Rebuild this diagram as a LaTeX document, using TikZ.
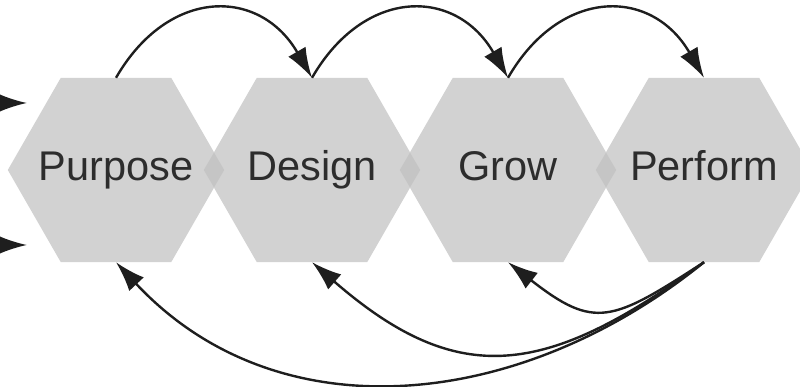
\documentclass[tikz,border=0pt]{standalone}
\usepackage{fontspec}
\setmainfont{Liberation Sans}
\usetikzlibrary{arrows.meta,calc,backgrounds}
\definecolor{hexfill}{RGB}{210,210,210}
\definecolor{hexlap}{RGB}{197,197,197}
\definecolor{inkdark}{RGB}{30,30,30}
\definecolor{labelgray}{RGB}{45,45,45}
\begin{document}
\begin{tikzpicture}[x=1pt,y=1pt,
  stage/.style={minimum width=216pt, minimum height=184pt, inner sep=0pt,
    text=labelgray, font=\fontsize{41.5}{50}\selectfont,
    text height=30pt, text depth=9pt},
  flow/.style={draw=inkdark, line width=2.4pt, -{Latex[length=30pt,width=20pt]}},
  ]
\useasboundingbox (0,0) rectangle (800,387);

% the four stages
\node[stage] (P) at (116,217) {Purpose};
\node[stage] (D) at (312,217) {Design};
\node[stage] (G) at (508,217) {Grow};
\node[stage] (F) at (704,217) {Perform};

% hexagon plates and their darker overlaps
\begin{scope}[on background layer]
  \foreach \n in {P,D,G,F}
    \fill[hexfill] (\n.west) -- ([xshift=53pt]\n.north west) -- ([xshift=-53pt]\n.north east)
      -- (\n.east) -- ([xshift=-53pt]\n.south east) -- ([xshift=53pt]\n.south west) -- cycle;
  \foreach \a/\b in {P/D,D/G,G/F}
    \fill[hexlap] (\b.west) -- ($(\a.east)!0.5!(\b.west)+(0,17.4)$) -- (\a.east)
      -- ($(\a.east)!0.5!(\b.west)-(0,17.4)$) -- cycle;
\end{scope}

% forward arcs over the top
\draw[flow] (P.north) to[out=60,in=120,looseness=1.37] (D.north);
\draw[flow] (D.north) to[out=60,in=120,looseness=1.37] (G.north);
\draw[flow] (G.north) to[out=60,in=120,looseness=1.37] (F.north);

% feedback arcs underneath, fanning out from Perform
\draw[flow] (F.south) .. controls ([shift={(213:110)}]F.south) and ([shift={(-38:110)}]G.south) .. (G.south);
\draw[flow] (F.south) .. controls ([shift={(216:195)}]F.south) and ([shift={(-41:195)}]D.south) .. (D.south);
\draw[flow] (F.south) .. controls ([shift={(219:237)}]F.south) and ([shift={(-47:237)}]P.south) .. (P.south);

% incoming arrows at the left edge
\coordinate (inA0) at (-1,284);
\coordinate (inA1) at (27,284);
\coordinate (inB0) at (-1,142);
\coordinate (inB1) at (27,142);
\draw[flow] (inA0) -- (inA1);
\draw[flow] (inB0) -- (inB1);
\end{tikzpicture}
\end{document}
